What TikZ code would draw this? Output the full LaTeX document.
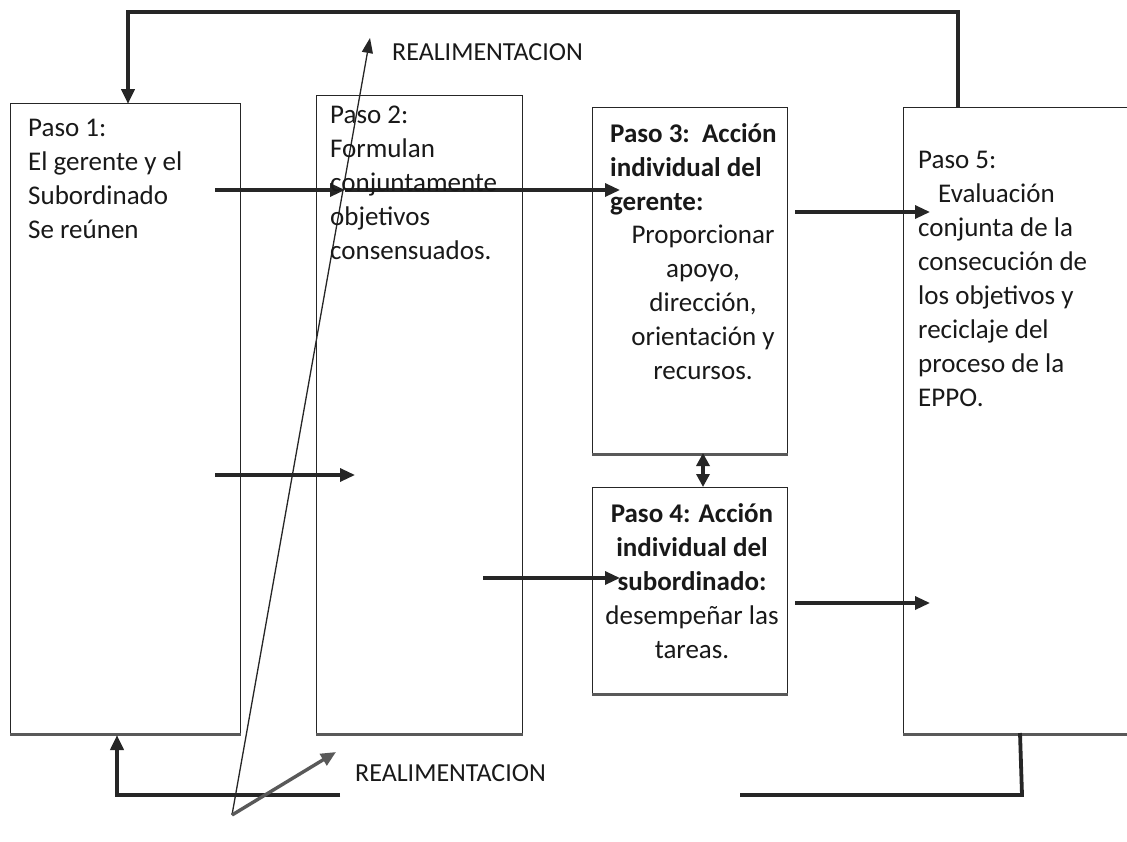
\documentclass[tikz,border=0pt]{standalone}
\usepackage{fontspec}
\setmainfont{Carlito}
\usetikzlibrary{arrows.meta}
\begin{document}
\begin{tikzpicture}[x=1pt,y=-1pt,
  box/.style={draw=black!85,line width=1.4pt,inner sep=0pt,anchor=north west},
  shadowline/.style={line width=3pt,draw=black!65},
  txt/.style={font=\fontsize{27}{34}\selectfont,align=left,inner sep=0pt,anchor=north west,text=black!90},
  ctxt/.style={font=\fontsize{27}{34}\selectfont,align=center,inner sep=0pt,anchor=north,text=black!90},
  conn/.style={line width=3.2pt,draw=black!85,-{Triangle[length=15pt,width=13pt]}},
  fb/.style={line width=3.8pt,draw=black!85},
  lab/.style={font=\fontsize{26}{30}\selectfont,inner sep=0pt,anchor=west,text=black!90}]
\useasboundingbox (0,0) rectangle (1127,841);
\fill[white] (0,0) rectangle (1127,841);

% boxes
\node[box,minimum width=230pt,minimum height=630pt] (b1) at (10,103) {};
\node[box,minimum width=206pt,minimum height=638pt] (b2) at (316,95) {};
\node[box,minimum width=195pt,minimum height=346pt] (b3) at (592,107) {};
\node[box,minimum width=195pt,minimum height=206pt] (b4) at (592,487) {};
\node[box,minimum width=240pt,minimum height=626pt] (b5) at (903,107) {};
\foreach \b in {b1,b2,b3,b4,b5}{\draw[shadowline] (\b.south west) -- (\b.south east);}

% coordinates for connectors
\coordinate (a1s) at (215,190); \coordinate (a1e) at (345,190);
\coordinate (a2e) at (620,190);
\coordinate (a3s) at (795,212); \coordinate (a3e) at (930,212);
\coordinate (a4s) at (215,475); \coordinate (a4e) at (355,475);
\coordinate (a5s) at (483,578); \coordinate (a5e) at (620,578);
\coordinate (a6s) at (795,603); \coordinate (a6e) at (930,603);
\coordinate (d0) at (703,453); \coordinate (d1) at (703,487);

\draw[conn] (a1s) -- (a1e);
\draw[conn] (a1e) -- (a2e);
\draw[conn] (a3s) -- (a3e);
\draw[conn] (a4s) -- (a4e);
\draw[conn] (a5s) -- (a5e);
\draw[conn] (a6s) -- (a6e);
\draw[line width=3.2pt,draw=black!85,{Triangle[length=13pt,width=13pt]}-{Triangle[length=13pt,width=13pt]}] (d0) -- (d1);

% feedback loops
\coordinate (t0) at (958,107); \coordinate (t1) at (958,12);
\coordinate (t2) at (128,12); \coordinate (t3) at (128,104);
\draw[fb,-{Triangle[length=15pt,width=13pt]}] (t0) -- (t1) -- (t2) -- (t3);

\coordinate (r0) at (1020,733); \coordinate (r1) at (1022,795);
\coordinate (r2) at (740,795);
\draw[fb] (r0) -- (r1) -- (r2);
\coordinate (l0) at (340,795); \coordinate (l1) at (117,795); \coordinate (l2) at (117,735);
\draw[fb,-{Triangle[length=15pt,width=13pt]}] (l0) -- (l1) -- (l2);

% pointer lines
\coordinate (p0) at (232,815);
\coordinate (p1) at (370,38);
\coordinate (p2) at (336,752);
\draw[line width=1.3pt,draw=black!85,-{Triangle[length=15pt,width=11pt]}] (p0) -- (p1);
\draw[line width=3.4pt,draw=black!65,-{Triangle[length=15pt,width=13pt]}] (p0) -- (p2);

% labels
\node[lab] (lt) at (392,52) {REALIMENTACION};
\node[lab] (lb) at (355,773) {REALIMENTACION};

% texts
\node[txt] (t1x) at (28,119) {Paso 1:\\El gerente y el\\Subordinado\\Se reúnen};
\node[txt] (t2x) at (330,106) {Paso 2:\\Formulan\\conjuntamente\\objetivos\\consensuados.};
\node[txt,font=\fontsize{27}{34}\selectfont\bfseries] (t3a) at (610,123) {Paso 3:\ \ Acción\\individual del\\gerente:};
\node[ctxt] (t3b) at (703,225) {Proporcionar\\apoyo,\\dirección,\\orientación y\\recursos.};
\node[ctxt] (t4x) at (692,503) {\textbf{Paso 4: Acción}\\\textbf{individual del}\\\textbf{subordinado:}\\desempeñar las\\tareas.};
\node[txt] (t5x) at (918,151) {Paso 5:\\\hspace*{20pt}Evaluación\\conjunta de la\\consecución de\\los objetivos y\\reciclaje del\\proceso de la\\EPPO.};
\end{tikzpicture}
\end{document}
